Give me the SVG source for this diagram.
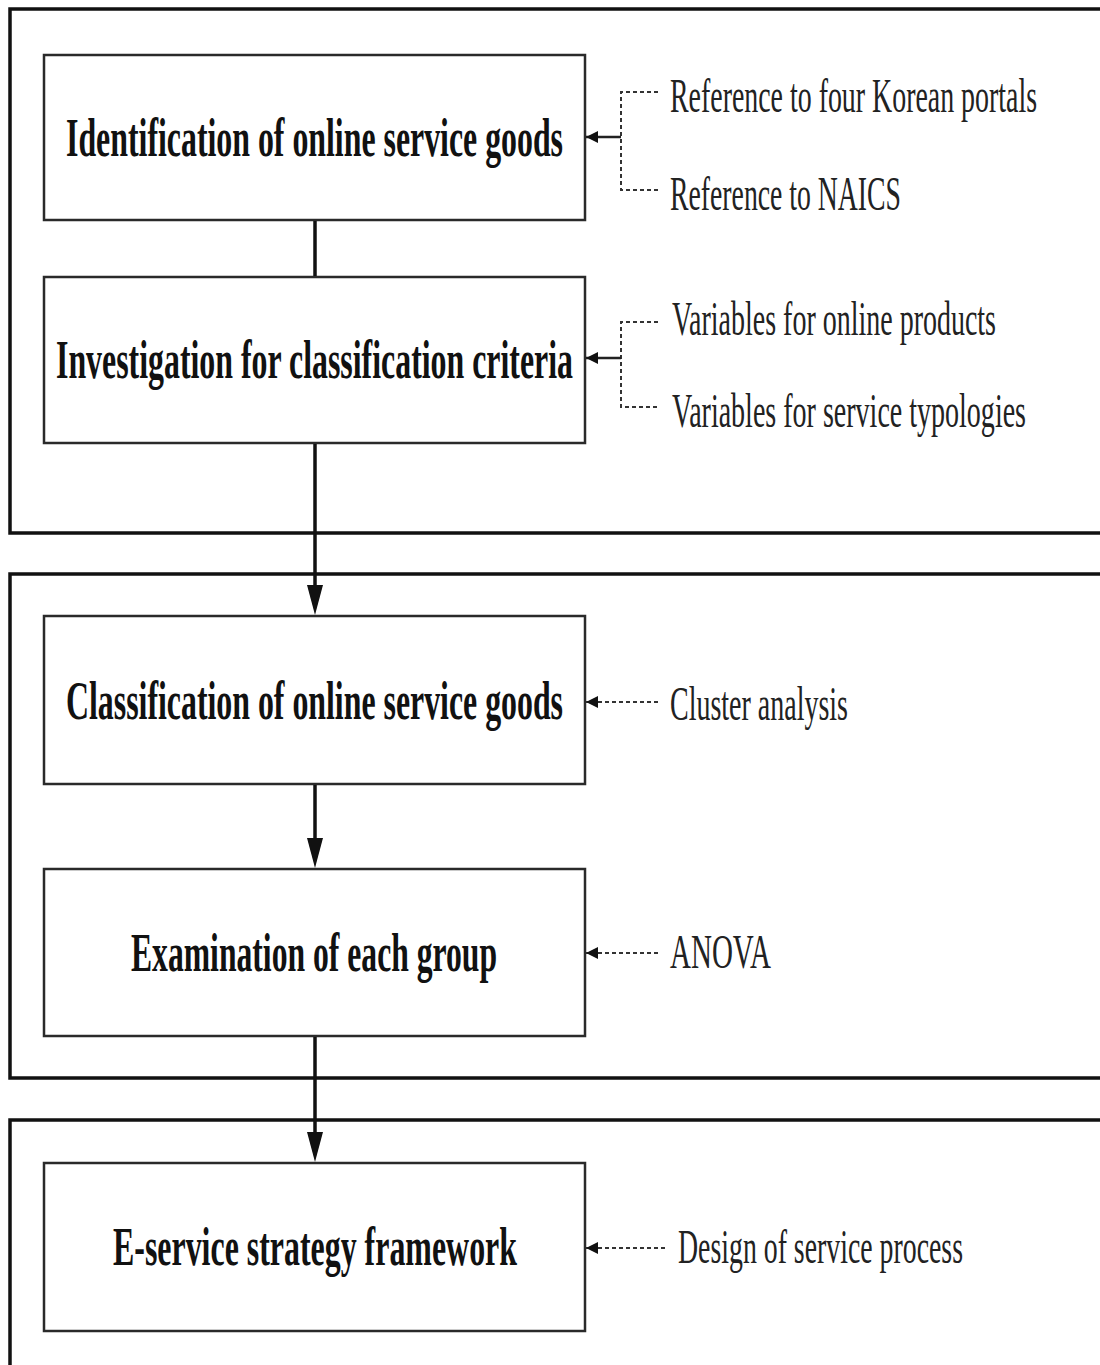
<svg xmlns="http://www.w3.org/2000/svg" width="1100" height="1365" viewBox="0 0 1100 1365">
<style>
.sec{fill:none;stroke:#111;stroke-width:3.5}
.box{fill:#fff;stroke:#2a2a2a;stroke-width:2.5}
.t{font-family:"Liberation Serif","Times New Roman",serif;font-weight:bold;font-size:54px;fill:#111}
.s{font-family:"Liberation Serif","Times New Roman",serif;font-size:48px;fill:#222}
.main{stroke:#111;stroke-width:3.5;fill:none}
.dash{stroke:#333;stroke-width:2;stroke-dasharray:4 3;fill:none}
.solid{stroke:#222;stroke-width:2.5;fill:none}
</style>
<defs>
<marker id="small" markerWidth="12" markerHeight="12" refX="12" refY="6" orient="auto" markerUnits="userSpaceOnUse" viewBox="0 0 12 12">
<path d="M0,0 L12,6 L0,12 Z" fill="#111"/>
</marker>
</defs>
<rect width="1100" height="1365" fill="#fff"/>
<g id="sections">
<rect class="sec" x="10" y="9" width="1100" height="524"/>
<rect class="sec" x="10" y="574" width="1100" height="504"/>
<rect class="sec" x="10" y="1120" width="1100" height="300"/>
</g>
<g id="node1">
<rect class="box" x="44" y="55" width="541" height="165"/>
<text class="t" x="66" y="156" textLength="497" lengthAdjust="spacingAndGlyphs">Identification of online service goods</text>
</g>
<g id="node2">
<rect class="box" x="44" y="277" width="541" height="166"/>
<text class="t" x="56" y="378" textLength="517" lengthAdjust="spacingAndGlyphs">Investigation for classification criteria</text>
</g>
<g id="node3">
<rect class="box" x="44" y="616" width="541" height="168"/>
<text class="t" x="66" y="719" textLength="497" lengthAdjust="spacingAndGlyphs">Classification of online service goods</text>
</g>
<g id="node4">
<rect class="box" x="44" y="869" width="541" height="167"/>
<text class="t" x="131" y="971" textLength="366" lengthAdjust="spacingAndGlyphs">Examination of each group</text>
</g>
<g id="node5">
<rect class="box" x="44" y="1163" width="541" height="168"/>
<text class="t" x="113" y="1265" textLength="404" lengthAdjust="spacingAndGlyphs">E-service strategy framework</text>
</g>
<g id="connectors">
<line class="main" x1="315" y1="221" x2="315" y2="276"/>
<line class="main" x1="315" y1="444" x2="315" y2="600"/>
<path d="M307,585 L323,585 L315,615 Z" fill="#111"/>
<line class="main" x1="315" y1="785" x2="315" y2="850"/>
<path d="M307,838 L323,838 L315,868 Z" fill="#111"/>
<line class="main" x1="315" y1="1037" x2="315" y2="1145"/>
<path d="M307,1132 L323,1132 L315,1162 Z" fill="#111"/>
<path class="dash" d="M658,92 H621 V190 H658"/>
<line class="solid" x1="621" y1="137" x2="586" y2="137" marker-end="url(#small)"/>
<path class="dash" d="M658,322 H621 V407 H658"/>
<line class="solid" x1="621" y1="358" x2="586" y2="358" marker-end="url(#small)"/>
<line class="dash" x1="658" y1="702" x2="586" y2="702" marker-end="url(#small)"/>
<line class="dash" x1="658" y1="953" x2="586" y2="953" marker-end="url(#small)"/>
<line class="dash" x1="665" y1="1248" x2="586" y2="1248" marker-end="url(#small)"/>
</g>
<g id="labels">
<text class="s" x="670" y="112" textLength="367" lengthAdjust="spacingAndGlyphs">Reference to four Korean portals</text>
<text class="s" x="670" y="210" textLength="231" lengthAdjust="spacingAndGlyphs">Reference to NAICS</text>
<text class="s" x="672" y="335" textLength="324" lengthAdjust="spacingAndGlyphs">Variables for online products</text>
<text class="s" x="672" y="427" textLength="354" lengthAdjust="spacingAndGlyphs">Variables for service typologies</text>
<text class="s" x="670" y="720" textLength="178" lengthAdjust="spacingAndGlyphs">Cluster analysis</text>
<text class="s" x="670" y="968" textLength="101" lengthAdjust="spacingAndGlyphs">ANOVA</text>
<text class="s" x="678" y="1263" textLength="285" lengthAdjust="spacingAndGlyphs">Design of service process</text>
</g>
</svg>
